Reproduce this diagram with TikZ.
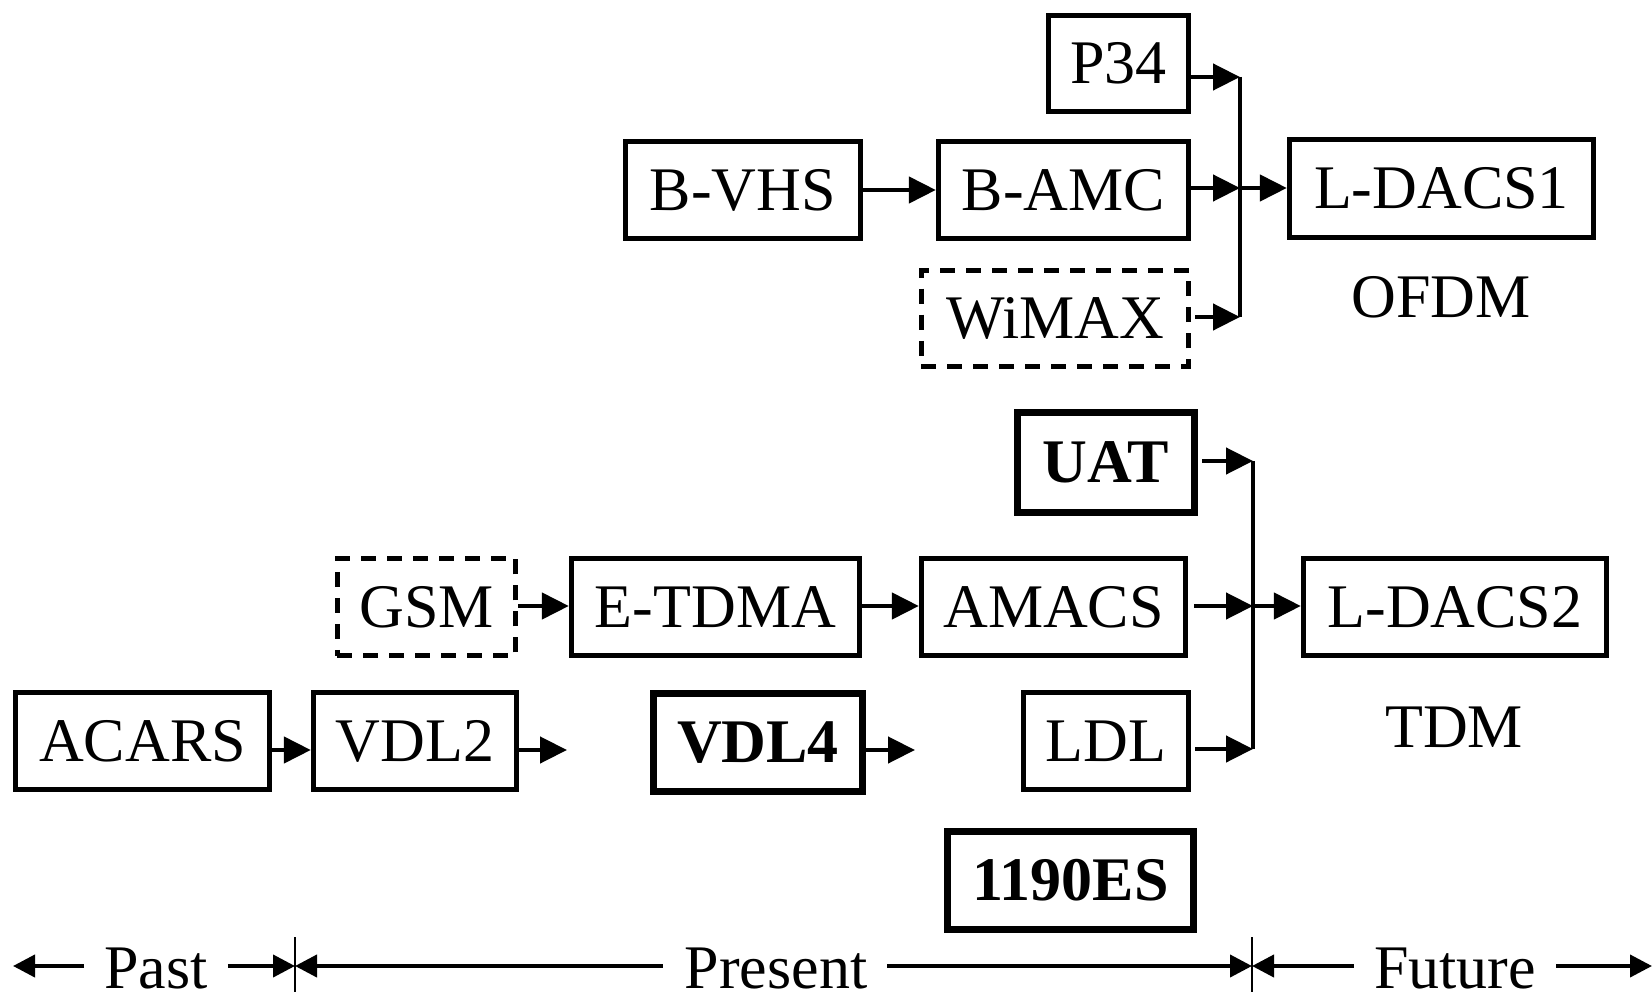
\documentclass[tikz,border=0pt]{standalone}
\usepackage{fontspec}
\setmainfont{Liberation Serif}
\usetikzlibrary{arrows.meta}
\begin{document}
\begin{tikzpicture}[x=1pt,y=-1pt,
  box/.style={draw,line width=4.8pt,inner sep=0pt,font=\fontsize{62}{70}\selectfont},
  dbox/.style={box,dash pattern=on 15pt off 11pt},
  tbox/.style={box,line width=7pt,font=\fontsize{62}{70}\selectfont\bfseries},
  lbl/.style={inner sep=0pt,font=\fontsize{62}{70}\selectfont},
  conn/.style={line width=4.5pt,-{Triangle[length=27pt,width=26pt]}},
  bar/.style={line width=4.5pt},
  tl/.style={line width=4pt,-{Triangle[length=22pt,width=22pt]}},
  tick/.style={line width=2.5pt}
]
\useasboundingbox (0,0) rectangle (1652,992);
% upper group
\node[box,minimum width=140.5pt,minimum height=96.5pt] (p34) at (1118.5,63.5) {P34};
\node[box,minimum width=235.5pt,minimum height=96.5pt] (bvhs) at (743,190) {B-VHS};
\node[box,minimum width=250.5pt,minimum height=97.5pt] (bamc) at (1063.5,190) {B-AMC};
\node[dbox,minimum width=267.5pt,minimum height=96.5pt] (wimax) at (1055,318.5) {WiMAX};
\node[box,minimum width=304.5pt,minimum height=98.5pt] (ld1) at (1441.5,188.5) {L-DACS1};
\node[lbl] (ofdm) at (1441,297) {OFDM};
\coordinate (b1t) at (1240,77);
\coordinate (b1m) at (1240,188);
\coordinate (b1b) at (1240,317);
\draw[bar] (b1t) -- (b1b);
\draw[conn] (bvhs.east) -- (bamc.west);
\draw[conn] (p34.east |- b1t) -- (b1t);
\draw[conn] (bamc.east |- b1m) -- (b1m);
\draw[conn] ([xshift=4pt]wimax.east |- b1b) -- (b1b);
\draw[conn] (b1m) -- (ld1.west |- b1m);
% lower group
\node[tbox,minimum width=177pt,minimum height=100pt] (uat) at (1106,462.5) {UAT};
\node[dbox,minimum width=178.5pt,minimum height=97.5pt] (gsm) at (426.5,607) {GSM};
\node[box,minimum width=288.5pt,minimum height=97.5pt] (etdma) at (715.5,607) {E-TDMA};
\node[box,minimum width=264.5pt,minimum height=97.5pt] (amacs) at (1053.5,607) {AMACS};
\node[box,minimum width=303.5pt,minimum height=97.5pt] (ld2) at (1455,607) {L-DACS2};
\node[lbl] (tdm) at (1454,727) {TDM};
\node[box,minimum width=254.5pt,minimum height=97.5pt] (acars) at (142.5,741) {ACARS};
\node[box,minimum width=203.5pt,minimum height=97.5pt] (vdl2) at (415,741) {VDL2};
\node[tbox,minimum width=209pt,minimum height=98pt] (vdl4) at (758,742.5) {VDL4};
\node[box,minimum width=165.5pt,minimum height=97.5pt] (ldl) at (1106,741) {LDL};
\node[tbox,minimum width=246pt,minimum height=98pt] (es) at (1070.5,880.5) {1190ES};
\coordinate (b2t) at (1253,461);
\coordinate (b2m) at (1253,606);
\coordinate (b2b) at (1253,749);
\draw[bar] (b2t) -- (b2b);
\draw[conn] ([xshift=4pt]uat.east |- b2t) -- (b2t);
\draw[conn] ([xshift=6pt]amacs.east |- b2m) -- (b2m);
\draw[conn] ([xshift=4pt]ldl.east |- b2b) -- (b2b);
\draw[conn] (b2m) -- (ld2.west |- b2m);
\draw[conn] (gsm.east |- b2m) -- (etdma.west |- b2m);
\draw[conn] (etdma.east |- b2m) -- (amacs.west |- b2m);
\coordinate (v2e) at (567,750);
\coordinate (v4e) at (915,750);
\draw[conn] (acars.east |- v2e) -- (vdl2.west |- v2e);
\draw[conn] (vdl2.east |- v2e) -- (v2e);
\draw[conn] (vdl4.east |- v4e) -- (v4e);
% timeline
\node[lbl] (past) at (156,968) {Past};
\node[lbl] (present) at (776,968) {Present};
\node[lbl] (future) at (1455,968) {Future};
\coordinate (tl0) at (13,966);
\coordinate (tk1) at (295,966);
\coordinate (tk2) at (1252,966);
\coordinate (tl3) at (1652,966);
\draw[tick] (295,937) -- (295,992);
\draw[tick] (1252,937) -- (1252,992);
\draw[tl] ([xshift=-20pt]past.west |- tl0) -- (tl0);
\draw[tl] ([xshift=20pt]past.east |- tk1) -- (tk1);
\draw[tl] ([xshift=-22pt]present.west |- tk1) -- (tk1);
\draw[tl] ([xshift=20pt]present.east |- tk2) -- (tk2);
\draw[tl] ([xshift=-20pt]future.west |- tk2) -- (tk2);
\draw[tl] ([xshift=20pt]future.east |- tl3) -- (tl3);
\end{tikzpicture}
\end{document}
